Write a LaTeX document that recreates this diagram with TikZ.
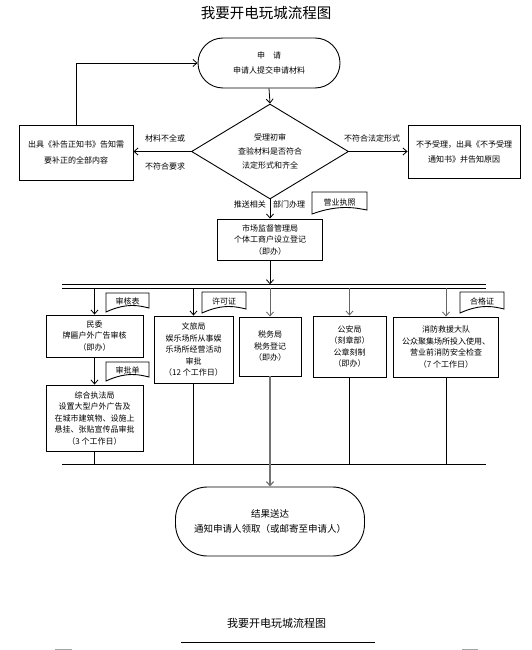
\documentclass[tikz,border=0pt]{standalone}
\usepackage{fontspec}
\setmainfont{Noto Sans CJK SC}
\usetikzlibrary{arrows.meta,shapes.geometric}
\tikzset{
 base/.style={font=\fontsize{8}{11.5}\selectfont, align=center, inner sep=0pt},
 box/.style={base, draw, line width=0.9pt},
 term/.style={base, draw, line width=0.9pt},
 arr/.style={line width=0.8pt, -{Straight Barb[length=4pt,width=7pt]}},
 ln/.style={line width=0.8pt},
 grl/.style={draw=black!55, line width=1.2pt},
 lbl/.style={font=\fontsize{8}{10}\selectfont, inner sep=0pt},
 docline/.style={line width=0.9pt}
}
\newcommand{\docshape}[6]{%
 \draw[docline] (#2,#3) -- (#4,#3) -- (#4,{#5-4}) .. controls ({#2+0.8*(#4-#2)},{#5-6}) and ({#2+0.5*(#4-#2)},{#5-10}) .. (#2,#5) -- cycle;
 \node[lbl] (#1) at ({(#2+#4)/2},{#3+(#5-#3)/2-1}) {#6};}
\begin{document}
\begin{tikzpicture}[x=1pt,y=-1pt]
\useasboundingbox (0,0) rectangle (531,650);
\fill[white] (0,0) rectangle (531,650);

\node (title) at (266,13) {\fontsize{14.5}{16}\selectfont 我要开电玩城流程图};

\node[term, rounded corners=25pt, minimum width=142pt, minimum height=50pt, font=\fontsize{8}{15}\selectfont] (start) at (269,63) {申　请\\申请人提交申请材料};

\node[diamond, draw, line width=0.9pt, base, minimum width=157pt, minimum height=95pt, shape aspect=1.65, font=\fontsize{8}{14}\selectfont] (dia) at (270,151.5) {受理初审\\查验材料是否符合\\法定形式和齐全};

\node[box, minimum width=114pt, minimum height=55pt, font=\fontsize{8}{16}\selectfont] (lbox) at (76,152.5) {出具《补告正知书》告知需\\要补正的全部内容};
\node[box, minimum width=112pt, minimum height=53pt, font=\fontsize{8}{15}\selectfont] (rbox) at (464,151.5) {不予受理，出具《不予受理\\通知书》并告知原因};

\draw[arr] (start.south) -- (dia.north);
\draw[arr] (dia.west) -- (dia.west -| lbox.east);
\draw[arr] (dia.east) -- (dia.east -| rbox.west);
\draw[arr] (lbox.north) |- (start.west);

\node[lbl] (t1) at (165,138) {材料不全或};
\node[lbl] (t2) at (165,166) {不符合要求};
\node[lbl] (t3) at (372,138) {不符合法定形式};

\node[box, minimum width=105pt, minimum height=41pt] (mkt) at (270,239.5) {市场监督管理局\\个体工商户设立登记\\（即办）};
\draw[arr] (dia.south) -- (mkt.north);
\node[lbl, anchor=east] (t4) at (266,204) {推送相关};
\node[lbl, anchor=west] (t5) at (273,204) {部门办理};
\docshape{d0}{312}{192}{367}{214}{营业执照}

\coordinate (dl1) at (62,284.3);
\coordinate (dr1) at (485.6,284.3);
\coordinate (dl2) at (62,288.3);
\coordinate (dr2) at (485.6,288.3);
\draw[ln] (dl1) -- (dr1);
\draw[ln] (dl2) -- (dr2);
\draw[arr] (mkt.south) -- (mkt.south |- dl1);

\node[box, minimum width=97pt, minimum height=42pt] (minwei) at (94.5,336) {民委\\牌匾户外广告审核\\（即办）};
\node[box, minimum width=97pt, minimum height=66pt] (zonghe) at (94.5,418) {综合执法局\\设置大型户外广告及\\在城市建筑物、设施上\\悬挂、张贴宣传品审批\\（3 个工作日）};
\node[box, minimum width=79pt, minimum height=67pt] (wenlv) at (193.5,349.5) {文旅局\\娱乐场所从事娱\\乐场所经营活动\\审批\\（12 个工作日）};
\node[box, minimum width=62pt, minimum height=59pt] (shuiwu) at (270,346.5) {税务局\\税务登记\\（即办）};
\node[box, minimum width=73pt, minimum height=61pt] (gongan) at (349.5,346.5) {公安局\\（刻章部）\\公章刻制\\（即办）};
\node[box, minimum width=105pt, minimum height=60pt] (xiaofang) at (446,347) {消防救援大队\\公众聚集场所投入使用、\\营业前消防安全检查\\（7 个工作日）};

\docshape{d1}{106}{293}{149}{312}{审核表}
\docshape{d2}{106}{362}{149}{381}{审批单}
\docshape{d3}{202}{292}{246}{313}{许可证}
\docshape{d4}{460}{292}{504}{313}{合格证}

\draw[arr] (minwei.north |- dl2) -- (minwei.north);
\draw[arr] (wenlv.north |- dl2) -- (wenlv.north);
\draw[arr, draw=black!60] (shuiwu.north |- dl2) -- (shuiwu.north);
\draw[arr, draw=black!60] (gongan.north |- dl2) -- (gongan.north);
\draw[arr, draw=black!60] (xiaofang.north |- dl2) -- (xiaofang.north);
\draw[arr] (minwei.south) -- (zonghe.north);

\coordinate (bl) at (62,464.3);
\coordinate (br) at (485.6,464.3);
\draw[ln] (bl) -- (br);
\draw[ln] (zonghe.south) -- (zonghe.south |- bl);
\draw[ln] (wenlv.south) -- (wenlv.south |- bl);
\draw[ln] (gongan.south) -- (gongan.south |- bl);
\draw[ln] (xiaofang.south) -- (xiaofang.south |- bl);

\node[term, rounded corners=32pt, minimum width=189pt, minimum height=69pt, font=\fontsize{9.5}{15}\selectfont] (result) at (270,521.5) {结果送达\\通知申请人领取（或邮寄至申请人）};
\draw[arr, grl] (shuiwu.south) -- (result.north);

\node (foot) at (276.6,623) {\fontsize{11}{13}\selectfont 我要开电玩城流程图};
\coordinate (fl) at (181,642.3);
\coordinate (fr) at (374.6,642.3);
\draw[line width=1pt] (fl) -- (fr);
\coordinate (m1a) at (55,649);
\coordinate (m1b) at (72,649);
\coordinate (m2a) at (462,649);
\coordinate (m2b) at (478,649);
\draw[black!35, line width=1pt] (m1a) -- (m1b);
\draw[black!35, line width=1pt] (m2a) -- (m2b);
\end{tikzpicture}
\end{document}
